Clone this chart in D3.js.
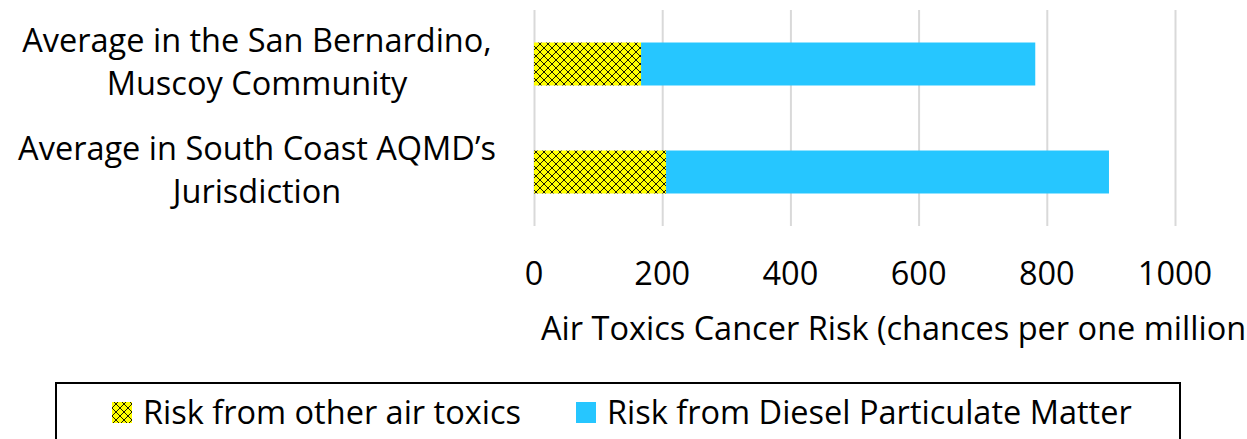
<!DOCTYPE html>
<html>
<head>
<meta charset="utf-8">
<script src="https://cdn.jsdelivr.net/npm/d3@7"></script>
<style>
  body { margin: 0; background: #fff; }
  svg { display: block; font-family: "Open Sans", Lato, sans-serif; }
</style>
</head>
<body>
<svg width="1247" height="439"></svg>
<script>
const categories = [["Average in the San Bernardino,", "Muscoy Community"], ["Average in South Coast AQMD\u2019s", "Jurisdiction"]]
const otherToxics = [167, 206]
const diesel = [615, 691]
const ticks = [0, 200, 400, 600, 800, 1000]
const seriesNames = ["Risk from other air toxics", "Risk from Diesel Particulate Matter"]
const axisTitle = "Air Toxics Cancer Risk (chances per one million"

let width = 1247,
    height = 439,
    fontSize = "32.5px",
    blue = "#26C6FF",
    yellow = "#FFFF00"

let svg = d3.select("svg")

// cross-hatch pattern for the first series
let defs = svg.append("defs")
let pat = defs.append("pattern")
    .attr("id", "hatch")
    .attr("patternUnits", "userSpaceOnUse")
    .attr("width", 8).attr("height", 8)
pat.append("rect").attr("width", 8).attr("height", 8).attr("fill", yellow)
pat.append("path")
    .attr("d", "M0,0 L8,8 M8,0 L0,8")
    .attr("stroke", "#000").attr("stroke-width", 0.9)

const x = d3.scaleLinear().domain([0, 1000]).range([534, 1175])
const y = d3.scaleBand().domain(d3.range(categories.length)).range([10, 226]).paddingInner(0.602).paddingOuter(0.301)

// gridlines
svg.append("g")
    .call(d3.axisBottom(x).tickValues(ticks).tickSize(216).tickFormat(""))
    .call(g => g.select(".domain").remove())
    .call(g => g.selectAll(".tick line").attr("stroke", "#d9d9d9").attr("stroke-width", 2).attr("transform", "translate(0,10)"))

// tick labels
svg.append("g")
    .selectAll("text")
    .data(ticks)
    .enter()
    .append("text")
    .attr("x", d => x(d))
    .attr("y", 285)
    .attr("text-anchor", "middle")
    .style("font-size", fontSize)
    .text(d => d)

svg.append("text")
    .attr("x", 541)
    .attr("y", 340)
    .style("font-size", fontSize)
    .text(axisTitle)

// bars
const bars = svg.append("g")
bars.selectAll("rect.other")
    .data(otherToxics)
    .enter()
    .append("rect")
    .attr("class", "other")
    .attr("x", x(0))
    .attr("y", (d, i) => y(i))
    .attr("width", d => x(d) - x(0))
    .attr("height", y.bandwidth())
    .attr("fill", "url(#hatch)")

bars.selectAll("rect.diesel")
    .data(diesel)
    .enter()
    .append("rect")
    .attr("class", "diesel")
    .attr("x", (d, i) => x(otherToxics[i]))
    .attr("y", (d, i) => y(i))
    .attr("width", (d, i) => x(otherToxics[i] + d) - x(otherToxics[i]))
    .attr("height", y.bandwidth())
    .attr("fill", blue)

// category labels
categories.forEach((lines, i) => {
    const cy = y(i) + y.bandwidth() / 2
    const t = svg.append("text")
        .attr("text-anchor", "middle")
        .style("font-size", fontSize)
    lines.forEach((ln, j) => {
        t.append("tspan")
            .attr("x", 257)
            .attr("y", cy - 12 + j * 43)
            .text(ln)
    })
})

// legend
svg.append("rect")
    .attr("x", 56).attr("y", 383)
    .attr("width", 1124).attr("height", 80)
    .attr("fill", "none").attr("stroke", "#000").attr("stroke-width", 2)

const legX = [112, 576]
const legFill = ["url(#hatch)", blue]
seriesNames.forEach((name, i) => {
    svg.append("rect")
        .attr("x", legX[i]).attr("y", 402)
        .attr("width", 20).attr("height", 21)
        .attr("fill", legFill[i])
    svg.append("text")
        .attr("x", legX[i] + 31)
        .attr("y", 424)
        .style("font-size", fontSize)
        .text(name)
})
</script>
</body>
</html>
